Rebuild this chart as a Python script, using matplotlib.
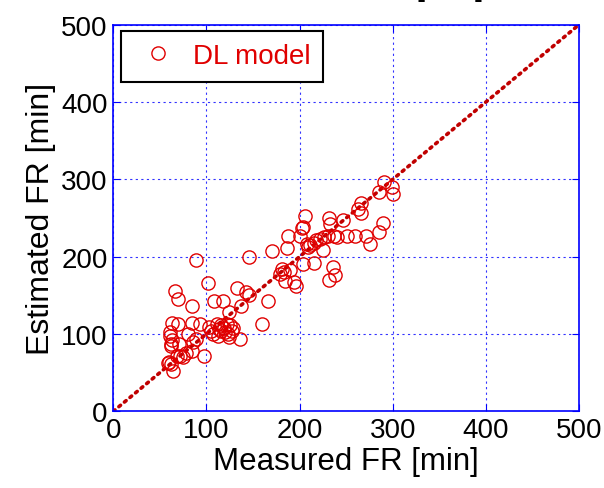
import numpy as np
import matplotlib.pyplot as plt

plt.rcParams['font.family'] = ['Liberation Sans', 'DejaVu Sans']

# Measured vs estimated FR (min)
measured = [
    89, 66, 69, 85, 63, 69, 85, 93, 61, 80, 89, 86, 62, 70, 62, 84, 78, 72,
    75, 68, 59, 62, 64, 97, 60, 61, 63, 103, 105,
    102, 108, 118, 133, 124, 137, 111, 116, 122, 125, 116, 120, 123, 127,
    124, 119, 128, 114, 136, 107, 112,
    146, 143, 146, 166, 160, 170, 188, 187, 181, 183, 190, 184, 194, 196, 179,
    206, 204, 203, 200, 208, 209, 211, 215, 218, 222, 226, 231, 237, 240,
    225, 204, 216, 236, 238, 232, 232, 233,
    247, 251, 260, 263, 266, 266, 271, 276, 285, 290, 285, 291, 299, 300,
]
estimated = [
    196, 155, 145, 136, 114, 113, 114, 113, 102, 100, 94, 89, 87, 87, 84, 78, 75, 72,
    70, 72, 63, 61, 52, 71, 64, 97, 92, 109, 104,
    166, 142, 143, 160, 129, 136, 113, 111, 113, 111, 104, 102, 100, 104,
    96, 108, 108, 107, 93, 100, 98,
    200, 154, 150, 143, 113, 207, 227, 211, 184, 180, 183, 168, 167, 162, 178,
    252, 239, 237, 227, 216, 212, 215, 218, 222, 223, 225, 227, 227, 225,
    208, 191, 192, 187, 176, 170, 250, 242,
    247, 227, 227, 262, 257, 269, 227, 216, 232, 244, 283, 297, 290, 281,
]
ideal = [0, 500]
ticks = [0, 100, 200, 300, 400, 500]

fig = plt.figure(figsize=(6.04, 4.89), dpi=100)
ax = fig.add_axes([0.1876, 0.1569, 0.771, 0.7905])

ax.plot(ideal, ideal, linestyle=(0, (0.6, 1.4)), color='#c00000', linewidth=2.6,
        dash_capstyle='round', zorder=2)
ax.plot(measured, estimated, linestyle='none', marker='o', markersize=9.5,
        markerfacecolor='none', markeredgecolor='#e00000', markeredgewidth=1.0,
        label='DL model', zorder=3)

ax.set_xlim(0, 500)
ax.set_ylim(0, 500)
ax.set_xticks(ticks)
ax.set_yticks(ticks)
ax.tick_params(labelsize=20, direction='in', color='blue', length=5,
               top=True, right=True, pad=4)
ax.grid(True, color='blue', linestyle=(0, (2, 3)), linewidth=0.8, alpha=0.8)
for s in ax.spines.values():
    s.set_color('blue')
    s.set_linewidth(1.2)

ax.set_xlabel('Measured FR [min]', fontsize=22.5, labelpad=2)
ax.set_ylabel('Estimated FR [min]', fontsize=23, labelpad=4)

leg = ax.legend(loc='upper left', bbox_to_anchor=(0.0157, 0.985), fontsize=20,
                frameon=True, fancybox=False, edgecolor='black', framealpha=1,
                handletextpad=0.35, borderpad=0.45, handlelength=1.8,
                borderaxespad=0)
leg.get_frame().set_linewidth(1.5)
for t in leg.get_texts():
    t.set_color('#e00000')

# title sits almost entirely above the canvas, as in the source image
fig.text(484 / 604, 1 + 5 / 489, 'Measured FR [min]', ha='right', va='baseline',
         fontsize=22.5)

fig.savefig('out.png', dpi=100)
